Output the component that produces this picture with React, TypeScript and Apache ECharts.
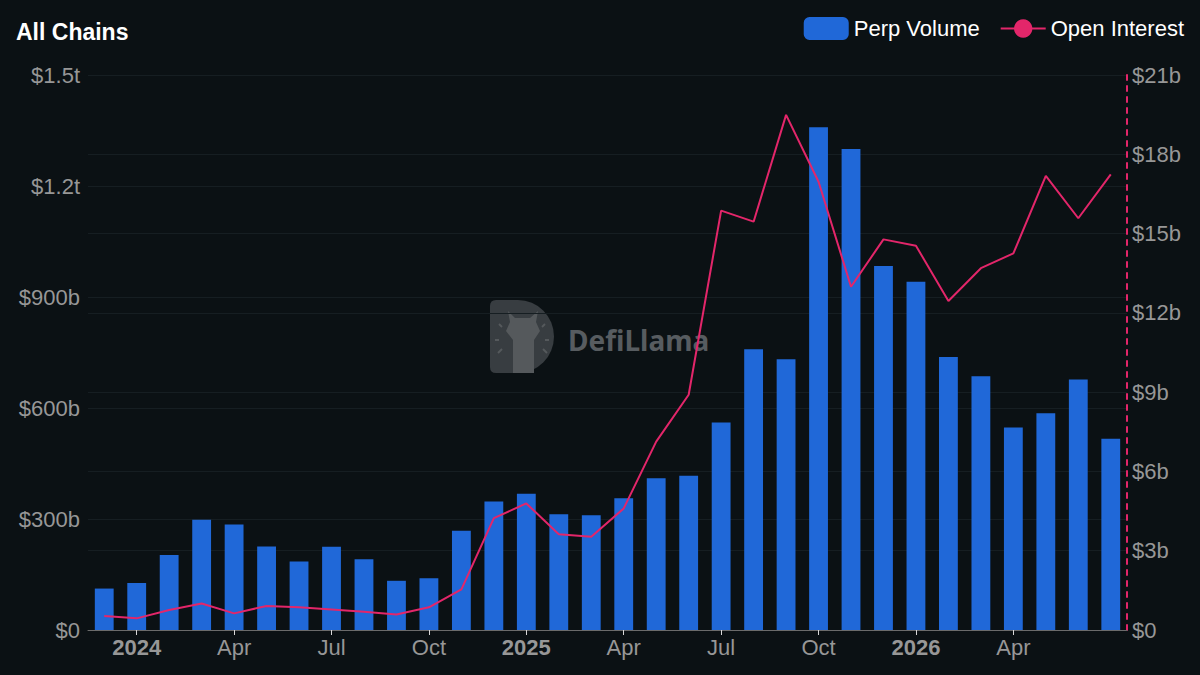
import React, { useEffect, useRef } from "react";
import * as echarts from "echarts";

const months: string[] = [
  "2023-12",
  "2024-01", "2024-02", "2024-03", "2024-04", "2024-05", "2024-06",
  "2024-07", "2024-08", "2024-09", "2024-10", "2024-11", "2024-12",
  "2025-01", "2025-02", "2025-03", "2025-04", "2025-05", "2025-06",
  "2025-07", "2025-08", "2025-09", "2025-10", "2025-11", "2025-12",
  "2026-01", "2026-02", "2026-03", "2026-04", "2026-05", "2026-06",
  "2026-07",
];

// Perp volume, in billions USD
const perpVolume: number[] = [
  112,
  127, 203, 298, 285, 226, 185,
  225, 191, 133, 140, 268, 347,
  368, 313, 310, 356, 410, 417,
  561, 759, 732, 1359, 1300, 984,
  941, 738, 686, 547, 586, 677,
  517,
];

// Open interest, in billions USD
const openInterest: number[] = [
  0.53,
  0.44, 0.76, 1.0, 0.63, 0.91, 0.86,
  0.78, 0.69, 0.59, 0.86, 1.54, 4.23,
  4.79, 3.62, 3.53, 4.6, 7.13, 8.9,
  15.87, 15.45, 19.49, 16.96, 12.99, 14.78,
  14.54, 12.45, 13.69, 14.25, 17.18, 15.58,
  17.24,
];

// Tick labels shown on the x axis
const labeledMonths: string[] = [
  "2024-01", "2024-04", "2024-07", "2024-10",
  "2025-01", "2025-04", "2025-07", "2025-10",
  "2026-01", "2026-04",
];

const monthNames: Record<string, string> = {
  "01": "Jan", "02": "Feb", "03": "Mar", "04": "Apr", "05": "May", "06": "Jun",
  "07": "Jul", "08": "Aug", "09": "Sep", "10": "Oct", "11": "Nov", "12": "Dec",
};

const FONT = "'Liberation Sans', Arial, Helvetica, sans-serif";
const BG = "#0b1114";
const BLUE = "#2068d8";
const PINK = "#e3266a";
const LABEL = "#979797";

const D_PATH = "M6 0 H28 A36 36.5 0 0 1 28 73 H6 Q0 73 0 67 V6 Q0 0 6 0 Z";

let registered = false;
function registerShapes() {
  if (registered) return;
  registered = true;
  echarts.graphic.registerShape(
    "llamaD",
    (echarts.graphic as any).extendPath(D_PATH, {})
  );
}

export default function App() {
  const ref = useRef<HTMLDivElement>(null);

  useEffect(() => {
    document.body.style.margin = "0";
    document.body.style.background = BG;
    registerShapes();
    const chart = echarts.init(ref.current!, null, { renderer: "svg" });

    const showFn = (_i: number, v: string) => labeledMonths.includes(v);

    const option: any = {
      animation: false,
      backgroundColor: BG,
      textStyle: { fontFamily: FONT },
      title: {
        text: "All Chains",
        left: 16,
        top: 20,
        padding: 0,
        textStyle: { color: "#ffffff", fontSize: 23, fontWeight: "bold", fontFamily: FONT },
      },
      legend: {
        right: 16,
        top: 17,
        padding: 0,
        itemWidth: 45,
        itemHeight: 23,
        itemGap: 20,
        textStyle: { color: "#ffffff", fontSize: 22, fontFamily: FONT },
        data: [
          { name: "Perp Volume", icon: "roundRect" },
          { name: "Open Interest" },
        ],
      },
      graphic: [
        {
          type: "group",
          z: 0,
          silent: true,
          children: [
            {
              type: "llamaD",
              x: 490,
              y: 300,
              style: { fill: "#383d41" },
            },
            {
              type: "polygon",
              shape: {
                points: [
                  [508, 311], [515, 318], [530, 318], [538, 311], [536, 322],
                  [540, 331], [534, 340], [534, 373], [513, 373], [513, 340],
                  [506, 331], [510, 322],
                ],
              },
              style: { fill: "#55595c" },
            },
            { type: "line", shape: { x1: 495, y1: 340, x2: 499, y2: 340 }, style: { stroke: "#55595c", lineWidth: 2 } },
            { type: "line", shape: { x1: 498, y1: 353, x2: 502, y2: 349 }, style: { stroke: "#55595c", lineWidth: 2 } },
            { type: "line", shape: { x1: 499, y1: 324, x2: 502, y2: 327 }, style: { stroke: "#55595c", lineWidth: 2 } },
            { type: "line", shape: { x1: 545, y1: 340, x2: 549, y2: 340 }, style: { stroke: "#55595c", lineWidth: 2 } },
            { type: "line", shape: { x1: 543, y1: 349, x2: 547, y2: 353 }, style: { stroke: "#55595c", lineWidth: 2 } },
            { type: "line", shape: { x1: 542, y1: 327, x2: 545, y2: 324 }, style: { stroke: "#55595c", lineWidth: 2 } },
            {
              type: "text",
              x: 568,
              y: 340,
              style: {
                text: "DefiLlama",
                fill: "#575c60",
                fontSize: 28,
                fontWeight: "bold",
                fontFamily: "'Noto Sans', Inter, sans-serif",
                verticalAlign: "middle",
                align: "left",
              },
            },
          ],
        },
      ],
      grid: { left: 88, right: 73, top: 75, bottom: 45, containLabel: false },
      xAxis: {
        type: "category",
        data: months,
        boundaryGap: true,
        axisLine: { show: true, lineStyle: { color: "#6b6b6b", width: 1 } },
        axisTick: {
          show: true,
          alignWithLabel: true,
          interval: showFn,
          length: 5,
          lineStyle: { color: "#d8d8d8", width: 1 },
        },
        axisLabel: {
          interval: showFn,
          margin: 6,
          color: LABEL,
          fontSize: 22,
          fontFamily: FONT,
          formatter: (v: string) => {
            const [y, m] = v.split("-");
            if (m === "01") return `{y|${y}}`;
            return monthNames[m];
          },
          rich: {
            y: { fontWeight: "bold", fontSize: 22, color: LABEL, fontFamily: FONT },
          },
        },
        splitLine: { show: false },
      },
      yAxis: [
        {
          type: "value",
          min: 0,
          max: 1500,
          interval: 300,
          axisLine: { show: false },
          axisTick: { show: false },
          axisLabel: {
            color: LABEL,
            fontSize: 22,
            margin: 8,
            fontFamily: FONT,
            formatter: (v: number) =>
              v === 0 ? "$0" : v >= 1000 ? `$${v / 1000}t` : `$${v}b`,
          },
          splitLine: { show: true, lineStyle: { color: "#161e22", width: 1 } },
        },
        {
          type: "value",
          min: 0,
          max: 21,
          interval: 3,
          position: "right",
          axisLine: {
            show: true,
            lineStyle: { color: PINK, width: 2, type: [5, 6] },
          },
          axisTick: { show: false },
          axisLabel: {
            color: LABEL,
            fontSize: 22,
            margin: 5,
            fontFamily: FONT,
            formatter: (v: number) => (v === 0 ? "$0" : `$${v}b`),
          },
          splitLine: { show: true, lineStyle: { color: "#161e22", width: 1 } },
        },
      ],
      series: [
        {
          name: "Perp Volume",
          type: "bar",
          data: perpVolume,
          yAxisIndex: 0,
          barWidth: "58%",
          itemStyle: { color: BLUE },
          z: 2,
        },
        {
          name: "Open Interest",
          type: "line",
          data: openInterest,
          yAxisIndex: 1,
          symbol: "circle",
          showSymbol: false,
          lineStyle: { color: PINK, width: 2 },
          itemStyle: { color: PINK },
          z: 3,
        },
      ],
    };

    chart.setOption(option);
    return () => chart.dispose();
  }, []);

  return (
    <div
      ref={ref}
      style={{ position: "fixed", left: 0, top: 0, width: 1200, height: 675, background: BG }}
    />
  );
}
